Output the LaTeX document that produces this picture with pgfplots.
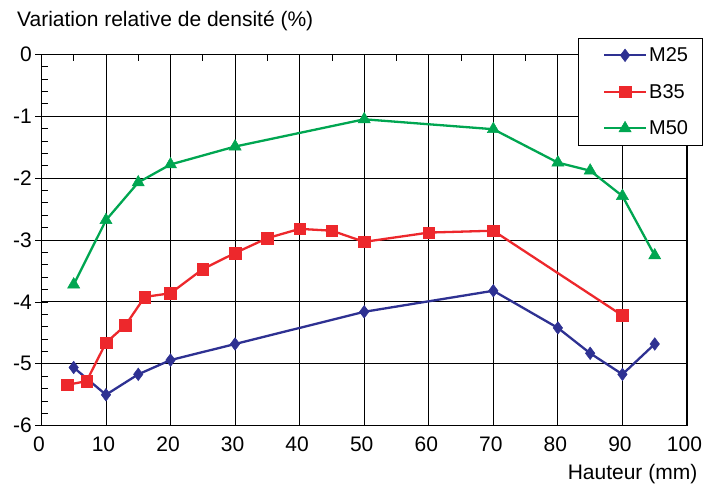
\documentclass[border=0pt]{standalone}
\usepackage{fontspec}
\setmainfont{Liberation Sans}
\usepackage{pgfplots}
\pgfplotsset{compat=1.18}
\definecolor{cblue}{RGB}{46,49,146}
\definecolor{cred}{RGB}{237,40,44}
\definecolor{cgreen}{RGB}{0,166,81}
\begin{document}
\begin{tikzpicture}
\begin{axis}[
  scale only axis,
  width=645.6pt, height=371.4pt,
  xmin=0, xmax=100, ymin=-6, ymax=0,
  xtick={0,10,...,100},
  ytick={-6,-5,...,0},
  yticklabels={-6,-5,-4,-3,-2,-1,0},
  minor x tick num=1,
  minor y tick num=4,
  xtick pos=right,
  xticklabel pos=left,
  ytick pos=left,
  tick align=inside,
  major tick length=7pt,
  minor tick length=7pt,
  tick style={black, line width=0.8pt},
  grid=major,
  major grid style={black, line width=0.9pt},
  axis line style={black, line width=1.3pt},
  /pgf/number format/assume math mode=true,
  tick label style={font=\fontsize{21}{24}\selectfont},
  x tick label style={yshift=-7.5pt, xshift=-2.5pt},
  y tick label style={xshift=-6pt},
  extra y ticks={-6,-5,...,0},
  extra y tick labels={},
  extra y tick style={tick align=outside, major tick length=6pt, grid=none},
  title={Variation relative de densité (\%)},
  title style={at={(rel axis cs:0,1)}, anchor=base west, xshift=-24.4pt, yshift=22pt, font=\fontsize{21}{24}\selectfont, inner sep=0pt},
  xlabel={Hauteur (mm)},
  xlabel style={at={(rel axis cs:1,0)}, anchor=base east, xshift=10.5pt, yshift=-54pt, font=\fontsize{21}{24}\selectfont, inner sep=0pt},
  legend style={at={(rel axis cs:1,1)}, anchor=north east, xshift=16pt, yshift=16.6pt,
    draw=black, line width=0.8pt, fill=white, font=\fontsize{20}{23}\selectfont,
    inner xsep=12.5pt, inner ysep=7.5pt, row sep=17pt},
  legend cell align=left,
  legend image code/.code={
    \path (0pt,0pt) (12pt,0pt);
    \draw[mark repeat=2,mark phase=2,#1] plot coordinates {(12pt,0pt)(33pt,0pt)(54pt,0pt)};
  },
]
\addplot[cblue, line width=2.3pt, mark=diamond*, mark size=6.3pt, mark options={solid, fill=cblue, line width=0.5pt}] coordinates {
(5,-5.06) (10,-5.50) (15,-5.17) (20,-4.94) (30,-4.68) (50,-4.16) (70,-3.82) (80,-4.42) (85,-4.83) (90,-5.17) (95,-4.68)
};
\addlegendentry{M25}
\addplot[cred, line width=2.3pt, mark=square*, mark size=5.8pt, mark options={solid, fill=cred, line width=0.5pt}] coordinates {
(4,-5.34) (7,-5.28) (10,-4.66) (13,-4.38) (16,-3.92) (20,-3.86) (25,-3.47) (30,-3.21) (35,-2.97) (40,-2.82) (45,-2.85) (50,-3.03) (60,-2.88) (70,-2.85) (90,-4.22)
};
\addlegendentry{B35}
\addplot[cgreen, line width=2.3pt, mark=triangle*, mark size=7pt, mark options={solid, fill=cgreen, line width=0.5pt}] coordinates {
(5,-3.72) (10,-2.68) (15,-2.07) (20,-1.78) (30,-1.49) (50,-1.05) (70,-1.21) (80,-1.75) (85,-1.88) (90,-2.29) (95,-3.25)
};
\addlegendentry{M50}
\end{axis}
\pgfresetboundingbox
\path[use as bounding box] (-41.4pt,-57.3pt) rectangle (661.6pt,425.7pt);
\end{tikzpicture}
\end{document}
